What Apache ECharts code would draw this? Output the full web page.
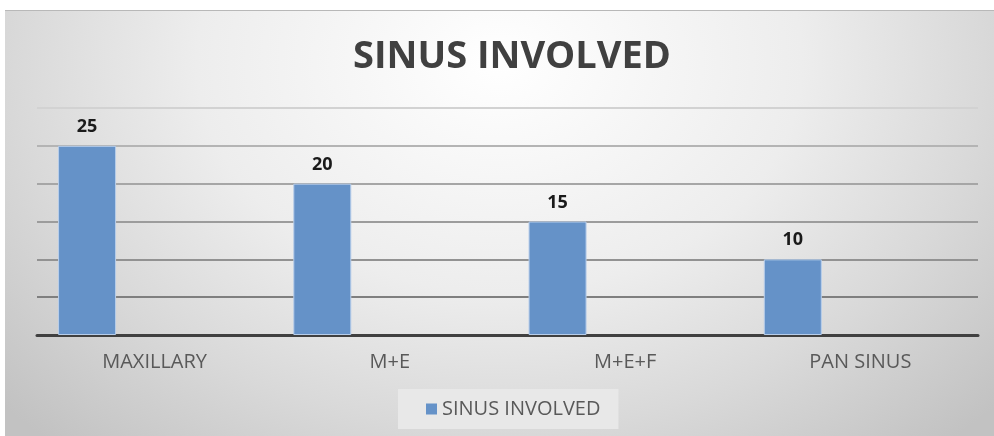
<!DOCTYPE html>
<html>
<head>
<meta charset="utf-8">
<script src="https://cdn.jsdelivr.net/npm/echarts@6/dist/echarts.min.js"></script>
<style>
  html, body { margin: 0; padding: 0; background: #fff; }
  #chart {
    position: absolute; left: 5px; top: 10px; width: 989px; height: 426px;
    border-top: 1px solid #b8b8b8;
    box-sizing: border-box;
    background: radial-gradient(ellipse 68% 120% at 50% 12%, #ffffff 0%, #ededed 45%, #d9d9d9 72%, #c2c2c2 100%);
  }
</style>
</head>
<body>
<div id="chart"></div>
<script>
var categories = ["MAXILLARY", "M+E", "M+E+F", "PAN SINUS"];
var sinusValues = [25, 20, 15, 10];
var seriesName = "SINUS INVOLVED";

var textFont = "'Open Sans', sans-serif";

var myChart = echarts.init(document.getElementById("chart"));
var option = {
	backgroundColor: 'transparent',
	title: {
		text: "SINUS INVOLVED",
		left: 343,
		top: 22,
		textStyle: {
			fontFamily: textFont,
			fontWeight: 'bold',
			fontSize: 38,
			color: '#404040'
		}
	},
	legend: {
		data: [seriesName],
		left: 393,
		top: 378,
		icon: 'rect',
		itemWidth: 11,
		itemHeight: 11,
		itemGap: 6,
		padding: [10, 18, 10, 28],
		backgroundColor: '#e8e8e8',
		itemStyle: { borderWidth: 0 },
		textStyle: {
			fontFamily: textFont,
			fontSize: 20,
			color: '#595959'
		}
	},
	grid: {
		left: 32,
		right: 16,
		top: 97,
		bottom: 101
	},
	xAxis: {
		type: 'category',
		data: categories,
		axisLine: {
			lineStyle: { color: '#404040', width: 3 }
		},
		axisTick: { show: false },
		axisLabel: {
			margin: 17,
			fontFamily: textFont,
			fontSize: 20,
			color: '#595959'
		}
	},
	yAxis: {
		type: 'value',
		min: 0,
		max: 30,
		interval: 5,
		axisLine: { show: false },
		axisTick: { show: false },
		axisLabel: { show: false },
		splitLine: {
			lineStyle: {
				// lighter toward the top, like the original
				color: ['#404040', '#7f7f7f', '#929292', '#9c9c9c', '#a6a6a6', '#b4b4b4', '#d2d2d2'],
				width: 2
			}
		}
	},
	series: [
		{
			name: seriesName,
			type: 'bar',
			data: sinusValues,
			barWidth: 58,
			barGap: '133%',
			itemStyle: {
				color: '#6592c8',
				borderColor: '#b7cdea',
				borderWidth: 1
			},
			label: {
				show: true,
				position: 'top',
				distance: 10,
				fontFamily: textFont,
				fontWeight: 'bold',
				fontSize: 18,
				color: '#1a1a1a'
			}
		},
		{
			// empty second slot so the bars sit left of the category centre
			name: 'spacer',
			type: 'bar',
			data: [],
			barWidth: 58,
			silent: true
		}
	]
};
myChart.setOption(option);
</script>
</body>
</html>
